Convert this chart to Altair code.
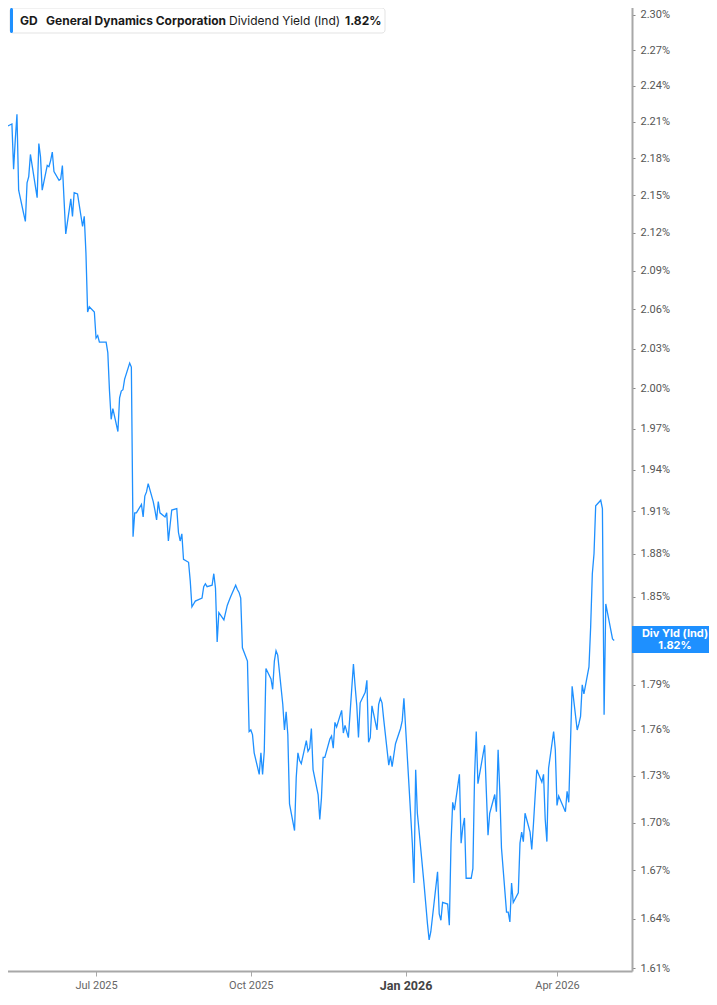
import altair as alt
import pandas as pd

# Dividend yield (Ind), %, one value per trading day
seg_a = [2.201, 2.213, 2.226, 2.206, 2.208, 2.171, 2.195, 2.216, 2.154, 2.135,
         2.129, 2.160, 2.165, 2.183, 2.148, 2.192, 2.181, 2.154, 2.174, 2.173,
         2.178, 2.185, 2.169, 2.162, 2.163, 2.174, 2.146, 2.119, 2.147, 2.133,
         2.152, 2.151, 2.125, 2.133, 2.104, 2.058, 2.062, 2.058, 2.038, 2.040,
         2.035, 2.035, 2.027, 1.998, 1.977, 1.985, 1.968, 1.993, 1.998, 1.999,
         2.007, 2.019, 2.016, 1.892]
seg_b = [1.909, 1.909, 1.915, 1.906, 1.921, 1.924, 1.930, 1.917, 1.911, 1.904,
         1.917, 1.909, 1.906, 1.909, 1.889, 1.900, 1.911, 1.912, 1.895, 1.889,
         1.894, 1.876, 1.874, 1.861, 1.843, 1.845, 1.847, 1.849, 1.857, 1.859,
         1.857, 1.858, 1.866, 1.856, 1.819, 1.839, 1.834, 1.839, 1.844, 1.847,
         1.850, 1.858, 1.855, 1.853, 1.849, 1.815, 1.806]
seg_c = [1.759, 1.760, 1.757, 1.745, 1.731, 1.745, 1.731, 1.746, 1.801, 1.794,
         1.787, 1.806, 1.813, 1.810, 1.777, 1.760, 1.772, 1.757, 1.712, 1.695,
         1.729, 1.745, 1.740, 1.738, 1.753, 1.746, 1.748, 1.761, 1.734, 1.718,
         1.702, 1.716, 1.742, 1.742, 1.754, 1.756, 1.748, 1.765, 1.762, 1.773,
         1.758, 1.763, 1.755, 1.804, 1.789, 1.776, 1.755, 1.778, 1.785, 1.793,
         1.752, 1.755, 1.776, 1.760, 1.777, 1.781, 1.778, 1.767, 1.737, 1.743,
         1.736, 1.751, 1.761, 1.766, 1.781]
seg_d = [1.743, 1.687, 1.662, 1.734, 1.706, 1.695, 1.661, 1.649, 1.637, 1.627,
         1.632, 1.669, 1.643, 1.639, 1.650, 1.649, 1.636, 1.687, 1.713, 1.708,
         1.731, 1.687, 1.697, 1.703, 1.665, 1.665, 1.671, 1.730, 1.759, 1.725,
         1.750, 1.720, 1.692, 1.706, 1.718, 1.707, 1.747, 1.720, 1.684, 1.644,
         1.644, 1.638, 1.662, 1.650, 1.656, 1.687, 1.694, 1.688, 1.706, 1.694,
         1.683, 1.699, 1.717, 1.734, 1.726, 1.731, 1.702, 1.688, 1.735, 1.759,
         1.747, 1.711, 1.717, 1.707, 1.720, 1.713, 1.751, 1.789, 1.760, 1.764,
         1.769, 1.790, 1.784, 1.802, 1.829, 1.866, 1.880, 1.914, 1.918, 1.912,
         1.770, 1.845, 1.839, 1.821, 1.820]
values = seg_a + seg_b + seg_c + seg_d

holidays = ["2025-05-26", "2025-06-19", "2025-07-04", "2025-09-01", "2025-11-27",
            "2025-12-25", "2026-01-01", "2026-01-19", "2026-02-16", "2026-04-03"]
dates = pd.bdate_range(start="2025-05-06", end="2026-05-15", freq="C", holidays=holidays)
n = min(len(dates), len(values))
df = pd.DataFrame({"date": dates[:n], "yld": values[:n]})

y_ticks = [1.61, 1.64, 1.67, 1.70, 1.73, 1.76, 1.79, 1.82, 1.85, 1.88, 1.91, 1.94,
           1.97, 2.00, 2.03, 2.06, 2.09, 2.12, 2.15, 2.18, 2.21, 2.24, 2.27, 2.30]
x_ticks = [alt.DateTime(year=2025, month=7, date=1), alt.DateTime(year=2025, month=10, date=1),
           alt.DateTime(year=2026, month=1, date=1), alt.DateTime(year=2026, month=4, date=1)]
last_label = "1.82%"

BLUE = "#1E90FF"
AXIS_GREY = "#a8a8a8"
IS_JAN = "month(datum.value) == 0"

line = alt.Chart(df).mark_line(color=BLUE, strokeWidth=1.3, clip=True).encode(
    x=alt.X("date:T",
            scale=alt.Scale(domain=[alt.DateTime(year=2025, month=5, date=4, hours=22),
                                    alt.DateTime(year=2026, month=5, date=15, hours=14)]),
            axis=alt.Axis(values=x_ticks, title=None, grid=False,
                          labelExpr="timeFormat(datum.value, '%b %Y')",
                          labelFont="Roboto",
                          labelFontSize={"condition": {"test": IS_JAN, "value": 12.5}, "value": 11},
                          labelFontWeight={"condition": {"test": IS_JAN, "value": "bold"}, "value": "normal"},
                          labelColor={"condition": {"test": IS_JAN, "value": "#444444"}, "value": "#666666"},
                          domainColor=AXIS_GREY, domainWidth=2, tickColor=AXIS_GREY,
                          tickSize=5, labelPadding=3, labelFlush=False)),
    y=alt.Y("yld:Q",
            scale=alt.Scale(type="log", domain=[1.6082, 2.3129], nice=False, zero=False),
            axis=alt.Axis(orient="right", values=y_ticks, title=None, grid=False,
                          # the 1.82% tick label sits under the blue last-value tag
                          labelExpr="abs(datum.value - 1.82) < 0.001 ? '' : format(datum.value, '.2f') + '%'",
                          labelFont="Roboto", labelFontSize=11, labelColor="#555555",
                          labelOverlap=False, domainColor=AXIS_GREY, domainWidth=2,
                          tickColor="#888888", tickSize=3, labelPadding=5)),
)

one = pd.DataFrame({"k": [0]})
base = alt.Chart(one)

legend_box = base.mark_rect(fill="white", stroke="#e3e3e3", strokeWidth=1, cornerRadius=3).encode(
    x=alt.value(10), x2=alt.value(385), y=alt.value(8), y2=alt.value(33))
legend_bar = base.mark_rect(fill=BLUE, cornerRadius=1.5).encode(
    x=alt.value(10), x2=alt.value(13), y=alt.value(8), y2=alt.value(33))

legend_texts = [
    ("GD", 20, "bold"),
    ("General Dynamics Corporation", 46, "bold"),
    ("Dividend Yield (Ind)", 229, "normal"),
    (last_label, 345, "bold"),
]
legend_layers = [
    base.mark_text(text=t, align="left", baseline="middle", font="Inter", fontSize=12,
                   fontWeight=w, color="#1a1a1a").encode(x=alt.value(xp), y=alt.value(20.5))
    for t, xp, w in legend_texts
]

tag_box = base.mark_rect(fill=BLUE).encode(
    x=alt.value(632), x2=alt.value(717), y=alt.value(626), y2=alt.value(653))
tag_l1 = base.mark_text(text="Div Yld (Ind)", align="center", baseline="middle", font="Inter",
                        fontSize=11, fontWeight="bold", color="white").encode(
    x=alt.value(675), y=alt.value(633.5))
tag_l2 = base.mark_text(text=last_label, align="center", baseline="middle", font="Inter",
                        fontSize=11, fontWeight="bold", color="white").encode(
    x=alt.value(675), y=alt.value(645.5))

chart = alt.layer(line, legend_box, legend_bar, *legend_layers, tag_box, tag_l1, tag_l2).properties(
    width=632, height=971, background="white",
    padding={"left": -8, "top": -8, "right": -8, "bottom": 0},
).configure_view(stroke=None)

chart.save("out.html", embed_options={"renderer": "svg", "actions": False})
